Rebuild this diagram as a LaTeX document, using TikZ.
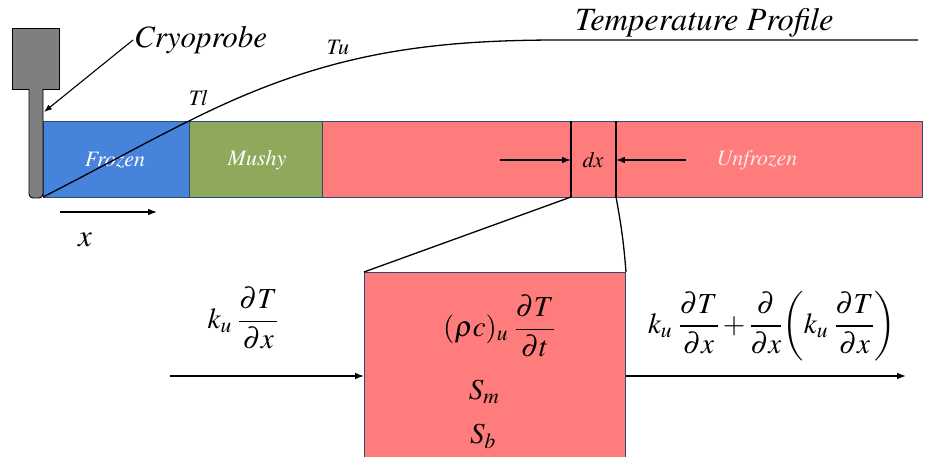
\documentclass[tikz,border=0pt]{standalone}
\usepackage{amsmath}
\usepackage[T1]{fontenc}
\usepackage{mathptmx}
\usetikzlibrary{arrows.meta,positioning,calc}
\definecolor{frozenblue}{HTML}{4683DB}
\definecolor{mushygreen}{HTML}{8FA95C}
\definecolor{unfrozenred}{HTML}{FF7C7C}
\definecolor{probegray}{HTML}{7F7F7F}
\definecolor{edgeblue}{HTML}{2E4A70}
\tikzset{
  >=Latex,
  zone/.style={draw=edgeblue,line width=0.9pt,minimum height=76pt,inner sep=0pt,anchor=north west},
  lbl/.style={font=\fontsize{31}{34}\selectfont\itshape,inner sep=1pt},
  small/.style={font=\fontsize{22}{26}\selectfont\itshape,inner sep=1pt},
  eq/.style={font=\fontsize{29}{34}\selectfont,inner sep=1pt},
  arrow/.style={->,line width=1.3pt,draw=black},
  link/.style={line width=1.3pt,draw=black}
}
\begin{document}
\begin{tikzpicture}[x=1pt,y=-1pt]
  \useasboundingbox (0,0) rectangle (927,457);

  % the bar of tissue
  \node[zone,fill=frozenblue,minimum width=146pt] (frozen) at (43,121) {};
  \node[zone,fill=mushygreen,minimum width=133pt] (mushy) at (189,121) {};
  \node[zone,fill=unfrozenred,minimum width=600pt] (unfrozen) at (322,121) {};
  \node[small,text=white] at (115,160) {Frozen};
  \node[small,text=white] at (257,160) {Mushy};
  \node[small,text=white!92!red] at (757,160) {Unfrozen};

  % probe
  \node[draw=black,fill=probegray,line width=0.9pt,minimum width=47pt,minimum height=61pt,inner sep=0pt,anchor=north west] (head) at (12,28) {};
  \draw[fill=probegray,line width=0.9pt,rounded corners=4pt] (29,89) -- (29,198) -- (43,198) -- (43,89);
  \coordinate (probetip) at (44,112);
  \coordinate (probebase) at (43,197);
  \node[lbl,anchor=west] (cryo) at (133,40) {Cryoprobe};
  \draw[arrow,line width=1.1pt] (cryo.west) -- (probetip);

  % temperature profile
  \coordinate (tlow) at (189,121);
  \coordinate (tflat) at (560,40);
  \coordinate (tend) at (918,40);
  \draw[line width=1.3pt] (probebase) .. controls (100,168) and (150,140) .. (tlow)
    .. controls (320,55) and (420,40) .. (tflat) -- (tend);
  \node[lbl,font=\fontsize{32.5}{36}\selectfont\itshape,anchor=south west] (tprof) at (574,38) {Temperature Profile};
  \node[small] (tl) at (198,98) {Tl};
  \node[small] (tu) at (338,48) {Tu};

  % x direction
  \coordinate (xs) at (60,212);
  \coordinate (xe) at (157,212);
  \draw[arrow] (xs) -- (xe);
  \node[lbl] (xlab) at (85,240) {x};

  % slice dx
  \coordinate (sl1) at (571,121);
  \coordinate (sl2) at (571,197);
  \coordinate (sr1) at (616,121);
  \coordinate (sr2) at (616,197);
  \draw[link] (sl1) -- (sl2);
  \draw[link] (sr1) -- (sr2);
  \node[small,text=black] (dx) at (593,160) {dx};
  \coordinate (dxl) at (500,160);
  \coordinate (dxr) at (686,160);
  \draw[arrow] (dxl) -- (sl1 |- dx);
  \draw[arrow] (dxr) -- (sr1 |- dx);

  % control volume
  \node[draw=edgeblue,fill=unfrozenred,line width=1pt,minimum width=261pt,minimum height=190pt,inner sep=0pt,anchor=north west] (cv) at (364,272) {};
  \draw[link] (sl2) -- (cv.north west);
  \draw[link] (sr2) to[bend left=3] (cv.north east);
  \node[eq] (store) at (499,326) {$(\rho c)_u\;\dfrac{\partial T}{\partial t}$};
  \node[eq] (sm) at (484,392) {$S_m$};
  \node[eq] (sb) at (483,436) {$S_b$};

  % fluxes
  \coordinate (fin) at (170,376);
  \draw[arrow] (fin) -- (cv.west |- fin);
  \node[eq] (qin) at (243,318) {$k_u\;\dfrac{\partial T}{\partial x}$};
  \coordinate (fout) at (906,376);
  \draw[arrow] (cv.east |- fout) -- (fout);
  \node[eq] (qout) at (772,326) {$k_u\;\dfrac{\partial T}{\partial x}+\dfrac{\partial}{\partial x}\!\left(k_u\;\dfrac{\partial T}{\partial x}\right)$};
\end{tikzpicture}
\end{document}
